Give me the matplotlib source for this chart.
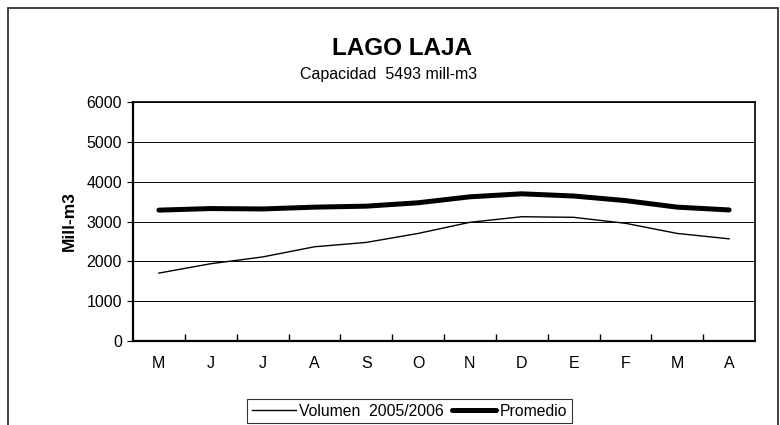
import matplotlib
matplotlib.use("Agg")
import matplotlib.pyplot as plt
from matplotlib.patches import Rectangle

plt.rcParams['font.family'] = ['Liberation Sans', 'DejaVu Sans']

# --- Data ---
months = ['M', 'J', 'J', 'A', 'S', 'O', 'N', 'D', 'E', 'F', 'M', 'A']
volumen = [1705, 1940, 2110, 2365, 2475, 2700, 2980, 3120, 3105, 2955, 2700, 2565]
promedio = [3285, 3325, 3315, 3360, 3385, 3470, 3620, 3695, 3640, 3525, 3360, 3290]

fig = plt.figure(figsize=(7.8, 4.25), dpi=100)

# outer frame of the chart (bottom edge falls outside the picture)
fig.patches.append(Rectangle((8 / 780, -0.05), 770 / 780, 1 - 8 / 425 + 0.05,
                             transform=fig.transFigure, fill=False,
                             edgecolor='#333333', linewidth=1.3))

ax = fig.add_axes([133 / 780, 1 - 341 / 425, 622 / 780, 239 / 425])

x = list(range(len(months)))
ax.plot(x, volumen, color='black', linewidth=1.0, label='Volumen  2005/2006')
ax.plot(x, promedio, color='black', linewidth=3.6, solid_capstyle='round',
        label='Promedio')

ax.set_xlim(-0.5, len(months) - 0.5)
ax.set_ylim(0, 6000)
ax.set_yticks(range(0, 6001, 1000))
ax.yaxis.grid(True, color='black', linewidth=0.7)
ax.set_axisbelow(True)

ax.set_xticks(x)
ax.set_xticklabels(months, fontsize=11.5)
ax.set_xticks([i + 0.5 for i in range(len(months) - 1)], minor=True)
ax.tick_params(axis='x', which='major', length=0, pad=11)
ax.tick_params(axis='x', which='minor', direction='in', length=5, width=1)
ax.tick_params(axis='y', direction='out', length=4.3, labelsize=11.5, pad=3.6)

for side in ['left', 'bottom']:
    ax.spines[side].set_linewidth(1.6)
for side in ['top', 'right']:
    ax.spines[side].set_linewidth(1.2)

ax.set_ylabel('Mill-m3', fontsize=12.5, fontweight='bold', labelpad=7)

fig.text(402 / 780, 1 - 48.5 / 425, 'LAGO LAJA', ha='center', va='center',
         fontsize=17.5, fontweight='bold')
fig.text(389 / 780, 1 - 75 / 425, 'Capacidad  5493 mill-m3', ha='center',
         va='center', fontsize=11.5)

leg = fig.legend(loc='center', bbox_to_anchor=(409.5 / 780, 1 - 411 / 425), ncol=2,
                 frameon=True, fancybox=False, fontsize=11.3, handlelength=2.8,
                 columnspacing=0.55, handletextpad=0.2, borderpad=0.3,
                 borderaxespad=0)
leg.get_frame().set_edgecolor('black')
leg.get_frame().set_linewidth(0.8)

fig.savefig('out.png', dpi=100)
